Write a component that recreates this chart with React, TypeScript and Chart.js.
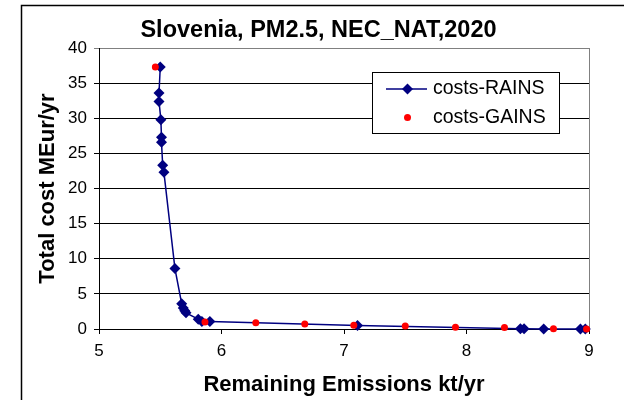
import React, { useEffect, useRef } from "react";
import { Chart, registerables } from "chart.js";

Chart.register(...registerables);

const FONT = "'Liberation Sans', Arial, Helvetica, sans-serif";

const TITLE = "Slovenia, PM2.5, NEC_NAT,2020";
const X_TITLE = "Remaining Emissions kt/yr";
const Y_TITLE = "Total cost MEur/yr";
const LEGEND_LABELS = ["costs-RAINS", "costs-GAINS"];

const rainsX = [5.50, 5.49, 5.49, 5.505, 5.51, 5.51, 5.52, 5.53, 5.62, 5.675, 5.688, 5.70, 5.71, 5.81, 5.84, 5.905, 7.11, 8.44, 8.47, 8.63, 8.93, 8.97];
const rainsY = [37.3, 33.6, 32.4, 29.8, 27.3, 26.6, 23.3, 22.3, 8.6, 3.6, 3.0, 2.6, 2.3, 1.4, 1.05, 1.05, 0.5, 0.02, 0.02, 0.01, 0.0, 0.0];

const gainsX = [5.46, 5.865, 6.28, 6.68, 7.08, 7.50, 7.91, 8.31, 8.71, 8.98];
const gainsY = [37.3, 1.0, 0.9, 0.7, 0.52, 0.42, 0.25, 0.2, 0.05, 0.0];

const X_MIN = 5, X_MAX = 9, X_STEP = 1;
const Y_MIN = 0, Y_MAX = 40, Y_STEP = 5;

const NAVY = "#000080";
const RED = "#FF0000";

const framePlugin = {
  id: "frame",
  beforeDatasetsDraw(chart: any) {
    const { ctx, chartArea } = chart;
    ctx.save();
    ctx.strokeStyle = "#808080";
    ctx.lineWidth = 1;
    ctx.beginPath();
    ctx.moveTo(Math.round(chartArea.right) + 0.5, Math.round(chartArea.top));
    ctx.lineTo(Math.round(chartArea.right) + 0.5, Math.round(chartArea.bottom));
    ctx.stroke();
    ctx.restore();
  },
  afterDraw(chart: any) {
    const { ctx } = chart;
    ctx.save();
    // outer frame
    ctx.strokeStyle = "#000";
    ctx.lineWidth = 1.5;
    ctx.beginPath();
    ctx.moveTo(21.5, 402);
    ctx.lineTo(21.5, 5.5);
    ctx.lineTo(626, 5.5);
    ctx.stroke();

    // title
    ctx.fillStyle = "#000";
    ctx.font = `bold 23.5px ${FONT}`;
    ctx.textAlign = "center";
    ctx.textBaseline = "alphabetic";
    ctx.fillText(TITLE, 318.5, 36.5);

    // legend
    const lx = 372.5, ly = 72.5, lw = 187, lh = 61;
    ctx.fillStyle = "#fff";
    ctx.fillRect(lx, ly, lw, lh);
    ctx.strokeStyle = "#000";
    ctx.lineWidth = 1;
    ctx.strokeRect(lx, ly, lw, lh);

    const r1 = 89, r2 = 118;
    ctx.strokeStyle = NAVY;
    ctx.lineWidth = 1.5;
    ctx.beginPath();
    ctx.moveTo(386, r1);
    ctx.lineTo(427, r1);
    ctx.stroke();
    ctx.fillStyle = NAVY;
    ctx.beginPath();
    const cx = 407.5, rr = 5.5;
    ctx.moveTo(cx, r1 - rr);
    ctx.lineTo(cx + rr, r1);
    ctx.lineTo(cx, r1 + rr);
    ctx.lineTo(cx - rr, r1);
    ctx.closePath();
    ctx.fill();

    ctx.fillStyle = RED;
    ctx.beginPath();
    ctx.arc(cx, r2 - 0.5, 3.5, 0, Math.PI * 2);
    ctx.fill();

    ctx.fillStyle = "#000";
    ctx.font = `19.5px ${FONT}`;
    ctx.textAlign = "left";
    ctx.textBaseline = "middle";
    ctx.fillText(LEGEND_LABELS[0], 433, r1);
    ctx.fillText(LEGEND_LABELS[1], 433, r2);
    ctx.restore();
  },
};

export default function App() {
  const ref = useRef<HTMLCanvasElement | null>(null);

  useEffect(() => {
    if (!ref.current) return;
    const rains = rainsX.map((x, i) => ({ x, y: rainsY[i] }));
    const gains = gainsX.map((x, i) => ({ x, y: gainsY[i] }));

    const chart = new Chart(ref.current, {
      type: "scatter",
      data: {
        datasets: [
          {
            label: LEGEND_LABELS[1],
            data: gains,
            showLine: false,
            pointStyle: "circle",
            pointRadius: 3.5,
            pointBackgroundColor: RED,
            pointBorderColor: RED,
            pointBorderWidth: 0,
            clip: false,
          } as any,
          {
            label: LEGEND_LABELS[0],
            data: rains,
            showLine: true,
            tension: 0,
            borderColor: NAVY,
            borderWidth: 1.5,
            pointStyle: "rectRot",
            pointRadius: 5.5,
            pointBackgroundColor: NAVY,
            pointBorderColor: NAVY,
            pointBorderWidth: 0,
            clip: false,
          } as any,
        ],
      },
      options: {
        responsive: false,
        animation: false,
        events: [],
        layout: { padding: { left: 0, right: 35, top: 48, bottom: 0 } },
        plugins: {
          legend: { display: false },
          title: { display: false },
          tooltip: { enabled: false },
        },
        scales: {
          x: {
            type: "linear",
            min: X_MIN,
            max: X_MAX,
            afterFit: (s: any) => { s.height = 71; },
            ticks: {
              stepSize: X_STEP,
              color: "#000",
              padding: 7,
              maxRotation: 0,
              font: { family: FONT, size: 17 },
            },
            grid: {
              drawOnChartArea: false,
              drawTicks: true,
              tickLength: 5,
              color: "#000",
            },
            border: { display: true, color: "#000", width: 1 },
            title: {
              display: true,
              text: X_TITLE,
              color: "#000",
              font: { family: FONT, size: 22, weight: "bold" },
              padding: { top: 0, bottom: 2 },
            },
          },
          y: {
            type: "linear",
            min: Y_MIN,
            max: Y_MAX,
            afterFit: (s: any) => { s.width = 99; },
            ticks: {
              stepSize: Y_STEP,
              color: "#000",
              padding: 7,
              font: { family: FONT, size: 17 },
            },
            grid: {
              drawOnChartArea: true,
              drawTicks: true,
              tickLength: 5,
              color: (c: any) => (c.tick && c.tick.value === Y_MAX ? "#808080" : "#000"),
            },
            border: { display: true, color: "#000", width: 1 },
            title: {
              display: true,
              text: Y_TITLE,
              color: "#000",
              font: { family: FONT, size: 22, weight: "bold" },
              padding: { top: 35, bottom: 0 },
            },
          },
        },
      },
      plugins: [framePlugin],
    });
    return () => chart.destroy();
  }, []);

  return (
    <div style={{ position: "fixed", left: 0, top: 0, width: 624, height: 400, background: "#fff" }}>
      <canvas ref={ref} width={624} height={400} style={{ display: "block" }} />
    </div>
  );
}
